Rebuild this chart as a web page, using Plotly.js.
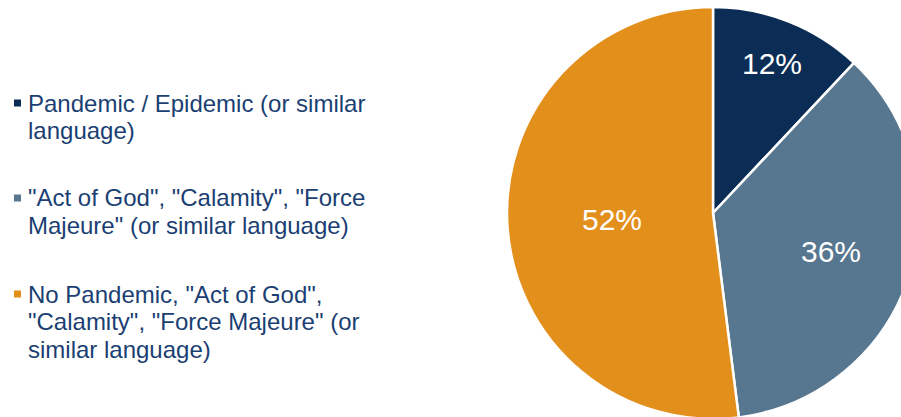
<!DOCTYPE html>
<html>
<head>
<meta charset="utf-8">
<script src="https://cdn.plot.ly/plotly-3.0.1.min.js"></script>
<style>
  html, body { margin: 0; padding: 0; background: #ffffff; overflow: hidden; }
  #chart { width: 940px; height: 440px; }
</style>
</head>
<body>
<div id="chart"></div>
<script>
// ---- data ----
const categories = [
  'Pandemic / Epidemic (or similar<br>language)',
  '"Act of God", "Calamity", "Force<br>Majeure" (or similar language)',
  'No Pandemic, "Act of God",<br>"Calamity", "Force Majeure" (or<br>similar language)'
];
const values = [12, 36, 52];
const colors = ['#0B2D55', '#57768F', '#E38F1C'];

// ---- layout config ----
const W = 940, H = 440;
const fontFam = '"Liberation Sans", Arial, sans-serif';
const legendMid = [103, 198, 294];   // vertical middle of first line of each item
const lineStep = 27.8;
const legendTextX = 27;
const legendFont = { family: fontFam, size: 24, color: '#1B3F73' };

// pie geometry (pixels)
const pieCx = 713, pieCy = 213, pieR = 206;
const labelRadialFrac = [0.78, 0.6, 0.49];

const annotations = [];
categories.forEach((c, i) => {
  c.split('<br>').forEach((line, j) => {
    annotations.push({
      text: line,
      xref: 'paper', yref: 'paper',
      x: legendTextX / W, y: 1 - (legendMid[i] + j * lineStep) / H,
      xanchor: 'left', yanchor: 'middle', align: 'left',
      showarrow: false, borderpad: 0,
      font: legendFont
    });
  });
});

// percentage labels placed at each slice's mid-angle
const total = values.reduce((a, b) => a + b, 0);
let cum = 0;
values.forEach((v, i) => {
  const mid = (cum + v / 2) / total * 2 * Math.PI;
  cum += v;
  const rr = labelRadialFrac[i] * pieR;
  const px = pieCx + rr * Math.sin(mid);
  const py = pieCy - rr * Math.cos(mid);
  annotations.push({
    text: Math.round(v / total * 100) + '%',
    xref: 'paper', yref: 'paper',
    x: px / W, y: 1 - py / H,
    xanchor: 'center', yanchor: 'middle',
    showarrow: false, borderpad: 0,
    font: { family: fontFam, size: 30, color: '#ffffff' }
  });
});

const shapes = categories.map((c, i) => ({
  type: 'rect', xref: 'paper', yref: 'paper',
  x0: 14 / W, x1: 21 / W,
  y0: 1 - (legendMid[i] - 3.5) / H, y1: 1 - (legendMid[i] + 3.5) / H,
  fillcolor: colors[i], line: { width: 0 }
}));

const trace = {
  type: 'pie',
  labels: categories,
  values: values,
  sort: false,
  direction: 'clockwise',
  rotation: 0,
  marker: { colors: colors, line: { color: '#ffffff', width: 2.5 } },
  textinfo: 'none',
  hoverinfo: 'label+percent',
  showlegend: false,
  domain: { x: [(pieCx - pieR) / W, (pieCx + pieR) / W], y: [1 - (pieCy + pieR) / H, 1 - (pieCy - pieR) / H] }
};

const layout = {
  width: W, height: H,
  margin: { l: 0, r: 0, t: 0, b: 0 },
  paper_bgcolor: '#ffffff',
  showlegend: false,
  annotations: annotations,
  shapes: shapes
};

Plotly.newPlot('chart', [trace], layout, { displayModeBar: false, staticPlot: true });
</script>
</body>
</html>
